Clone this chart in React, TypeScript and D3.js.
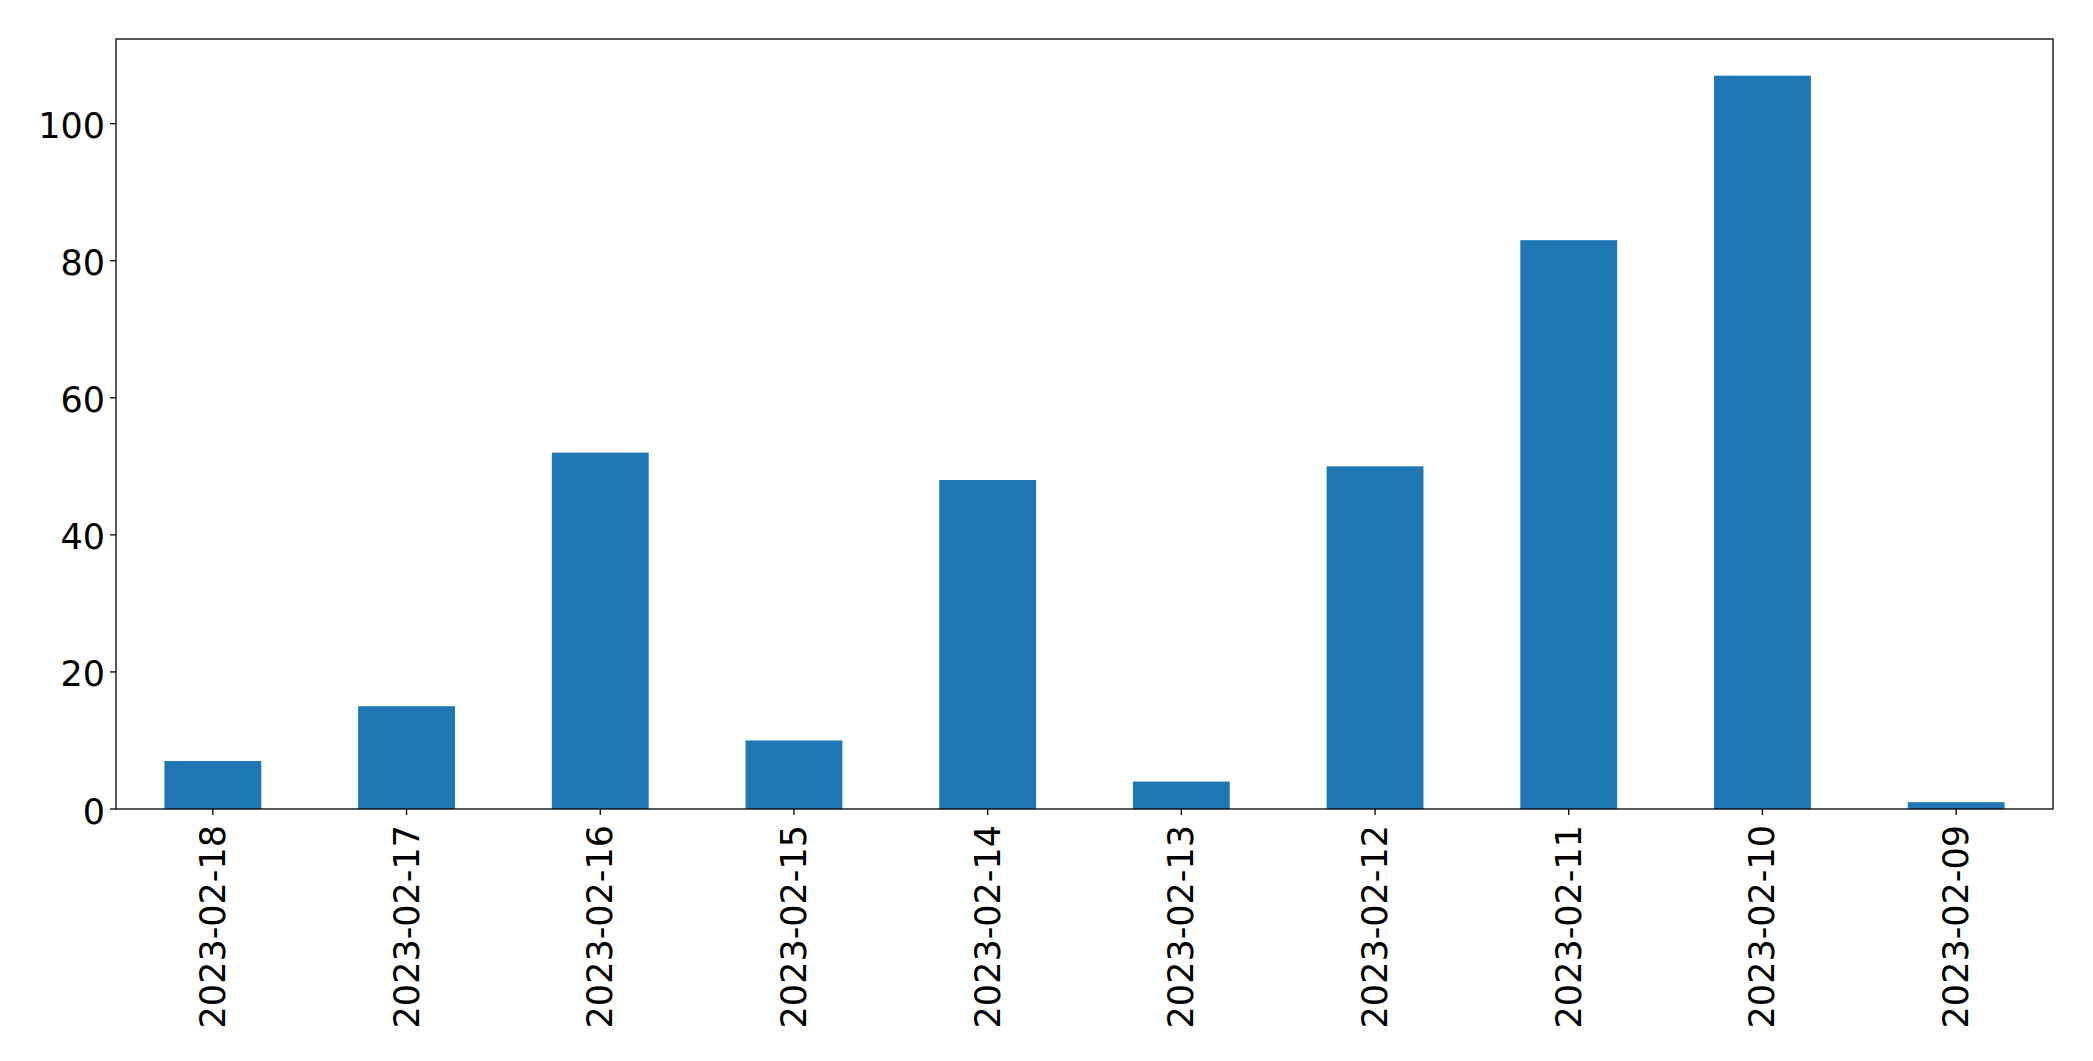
import React from "react";
import * as d3 from "d3";

const categories = ["2023-02-18","2023-02-17","2023-02-16","2023-02-15","2023-02-14","2023-02-13","2023-02-12","2023-02-11","2023-02-10","2023-02-09"];
const values = [7, 15, 52, 10, 48, 4, 50, 83, 107, 1];
const yTicks = [0, 20, 40, 60, 80, 100];

const W = 2093, H = 1061;
const L = 116, R = 2053, T = 39, B = 809;
const FS = 35;
const FONT = "'DejaVu Sans', sans-serif";

export default function App() {
  const x = d3.scaleLinear().domain([-0.5, categories.length - 0.5]).range([L, R]);
  const yMax = d3.max(values)! * 1.05;
  const y = d3.scaleLinear().domain([0, yMax]).range([B, T]);
  const bw = x(0.25) - x(-0.25);
  return (
    <svg width={W} height={H} style={{ position: "absolute", left: 0, top: 0 }} fontFamily={FONT}>
      <rect x={0} y={0} width={W} height={H} fill="white" />
      {values.map((v, i) => (
        <rect key={i} x={x(i) - bw / 2} y={y(v)} width={bw} height={y(0) - y(v)} fill="#1f77b4" />
      ))}
      <rect x={L} y={T} width={R - L} height={B - T} fill="none" stroke="black" strokeWidth={1.3} />
      {yTicks.map((t) => (
        <g key={t}>
          <line x1={L - 6} x2={L} y1={y(t)} y2={y(t)} stroke="black" strokeWidth={1.3} />
          <text x={L - 11} y={y(t) + 2.5} textAnchor="end" dominantBaseline="central" fontSize={FS} fill="black">{t}</text>
        </g>
      ))}
      {categories.map((c, i) => (
        <g key={c}>
          <line x1={x(i)} x2={x(i)} y1={B} y2={B + 6} stroke="black" strokeWidth={1.3} />
          <text transform={`translate(${x(i)},${B + 16}) rotate(-90)`} textAnchor="end" dominantBaseline="central" fontSize={FS} fill="black">{c}</text>
        </g>
      ))}
    </svg>
  );
}
